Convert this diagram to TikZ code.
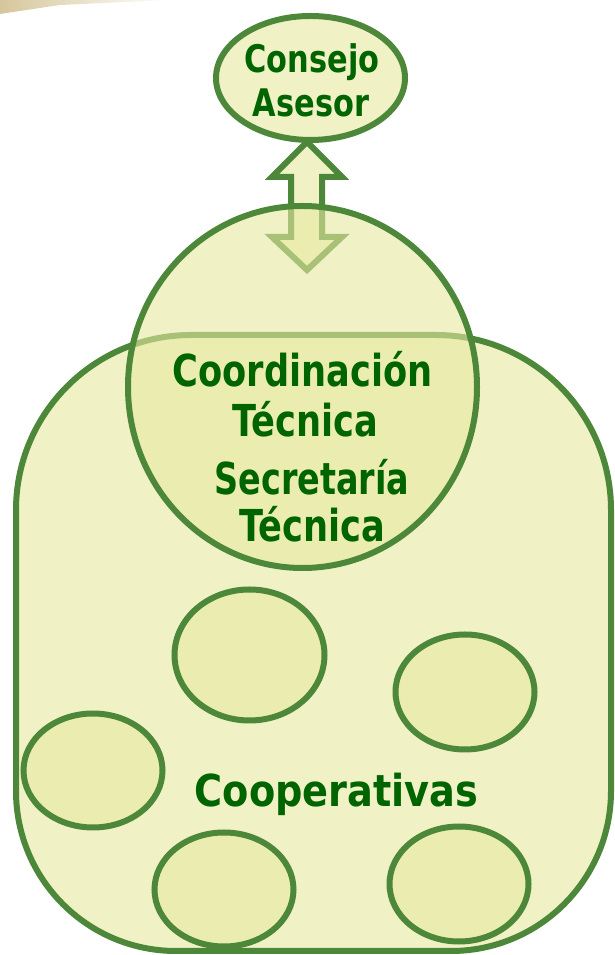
\documentclass[tikz,border=0pt]{standalone}
\usepackage{fontspec}
\setmainfont{DejaVu Sans}[FakeStretch=0.8]
\newfontfamily\widefont{DejaVu Sans}[FakeStretch=0.87]
\newfontfamily\narrowfont{DejaVu Sans}[FakeStretch=0.76]
\usetikzlibrary{shapes.geometric,calc}
\definecolor{edgeg}{RGB}{77,135,58}
\definecolor{fillg}{RGB}{230,233,160}
\definecolor{txtg}{RGB}{0,100,0}
\definecolor{smear}{RGB}{214,198,155}
\begin{document}
\begin{tikzpicture}[x=1pt,y=1pt,
  blob/.style={draw=edgeg,line width=6pt,fill=fillg,fill opacity=0.6,draw opacity=1},
  oval/.style={blob,ellipse,inner sep=0pt},
  lbl/.style={text=txtg,font=\bfseries\fontsize{44}{50}\selectfont,anchor=base,inner sep=0pt},
  lblwide/.style={lbl,font=\widefont\bfseries\fontsize{44}{50}\selectfont},
  lblnarrow/.style={lbl,font=\narrowfont\bfseries\fontsize{44}{50}\selectfont},
  lblsmall/.style={lbl,font=\bfseries\fontsize{38}{44}\selectfont}]
\useasboundingbox (0,0) rectangle (614,955);
\shade[left color=smear, right color=white] (0,955) -- (170,955) -- (60,950) -- (0,941) -- cycle;
% outer body
\draw[blob] (16,445) arc[start angle=180,end angle=90,radius=175pt] -- (436,620)
  arc[start angle=90,end angle=0,radius=175pt] -- (611,164)
  arc[start angle=0,end angle=-90,radius=160pt] -- (176,4)
  arc[start angle=270,end angle=180,radius=160pt] -- cycle;
% small circles
\node[oval,minimum width=150pt,minimum height=131pt] (c1) at (249.5,300) {};
\node[oval,minimum width=139pt,minimum height=115pt] (c2) at (465,263) {};
\node[oval,minimum width=139pt,minimum height=114pt] (c3) at (93,184.5) {};
\node[oval,minimum width=139pt,minimum height=114pt] (c4) at (224,65.5) {};
\node[oval,minimum width=139pt,minimum height=115pt] (c5) at (459,71) {};
% consejo
\node[oval,minimum width=189pt,minimum height=124pt] (consejo) at (310.5,877) {};
% double block arrow
\draw[blob,line join=miter] (307,813) -- (342,778) -- (322,778) -- (322,718) -- (342,718)
  -- (307,685) -- (272,718) -- (291,718) -- (291,778) -- (272,778) -- cycle;
% coordination circle
\node[oval,minimum width=349pt,minimum height=362pt] (coord) at (302.5,568) {};
% labels
\node[lblsmall] (t1) at (312,882) {Consejo};
\node[lblsmall] (t2) at (311,838) {Asesor};
\node[lbl] (t3) at (302.5,568) {Coordinación};
\node[lbl] (t4) at (305,518) {Técnica};
\node[lblnarrow] (t5) at (312,460) {Secretaría};
\node[lbl] (t6) at (312,413) {Técnica};
\node[lblwide] (t7) at (336.5,148) {Cooperativas};
\end{tikzpicture}
\end{document}
